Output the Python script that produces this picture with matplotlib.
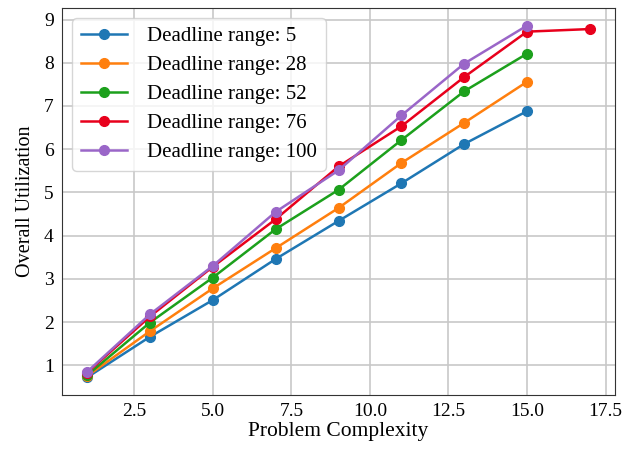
import matplotlib.pyplot as plt
from matplotlib.ticker import MultipleLocator, FormatStrFormatter

plt.rcParams['font.family'] = ['Liberation Serif', 'DejaVu Serif']

# utilization per problem complexity, one series per deadline range
complexity = [1, 3, 5, 7, 9, 11, 13, 15]
complexity_76 = [1, 3, 5, 7, 9, 11, 13, 15, 17]
util_5 = [0.72, 1.66, 2.51, 3.46, 4.34, 5.21, 6.12, 6.88]
util_28 = [0.75, 1.79, 2.78, 3.71, 4.64, 5.68, 6.61, 7.56]
util_52 = [0.77, 1.99, 3.03, 4.15, 5.06, 6.21, 7.34, 8.21]
util_76 = [0.83, 2.13, 3.28, 4.38, 5.60, 6.53, 7.67, 8.72, 8.78]
util_100 = [0.85, 2.18, 3.30, 4.55, 5.51, 6.78, 7.98, 8.86]

fig = plt.figure(figsize=(6.36, 4.5), dpi=100)
ax = fig.add_axes([62 / 636, 55 / 450, 553 / 636, 387 / 450])

ax.plot(complexity, util_5, marker='o', ms=7, lw=1.8, color='#1f77b4', label='Deadline range: 5')
ax.plot(complexity, util_28, marker='o', ms=7, lw=1.8, color='#ff7f0e', label='Deadline range: 28')
ax.plot(complexity, util_52, marker='o', ms=7, lw=1.8, color='#1ca01c', label='Deadline range: 52')
ax.plot(complexity_76, util_76, marker='o', ms=7, lw=1.8, color='#e8001c', label='Deadline range: 76')
ax.plot(complexity, util_100, marker='o', ms=7, lw=1.8, color='#9a66c8', label='Deadline range: 100')

ax.xaxis.set_major_locator(MultipleLocator(2.5))
ax.xaxis.set_major_formatter(FormatStrFormatter('%.1f'))
ax.yaxis.set_major_locator(MultipleLocator(1))

ax.grid(True, color='#c8c8c8', lw=1.2)
ax.set_axisbelow(True)
for s in ax.spines.values():
    s.set_color('#333333')
ax.tick_params(labelsize=14, length=0, pad=6)
ax.set_xlabel('Problem Complexity', fontsize=15.5, labelpad=1)
ax.set_ylabel('Overall Utilization', fontsize=14.5, labelpad=6)
ax.legend(loc='upper left', fontsize=15, borderaxespad=0.5, handlelength=2.2,
          handletextpad=1.0, labelspacing=0.45, framealpha=0.8)

fig.savefig('out.png', dpi=100)
